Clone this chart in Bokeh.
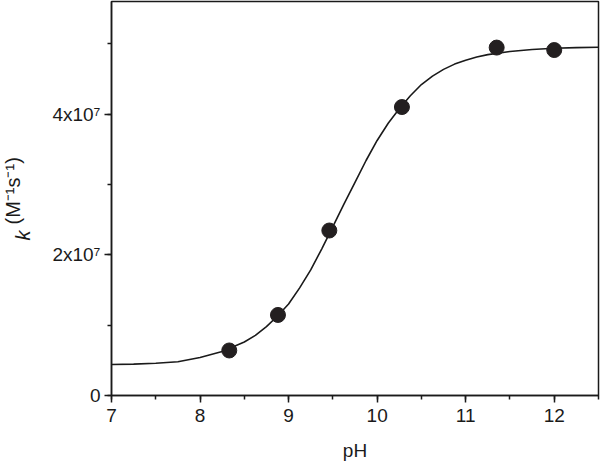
import math
from bokeh.plotting import figure
from bokeh.models import SingleIntervalTicker, Label, Range1d
from bokeh.embed import file_html
from bokeh.resources import INLINE

# measured data points
ph_points = [8.33, 8.88, 9.46, 10.28, 11.35, 12.0]
k_points = [6.4e6, 1.145e7, 2.345e7, 4.10e7, 4.945e7, 4.91e7]

# fitted curve
ph_curve = [7.00, 7.25, 7.50, 7.75, 8.00, 8.25, 8.50, 8.625, 8.75, 8.875,
            9.00, 9.125, 9.25, 9.375, 9.50, 9.625, 9.75, 9.875, 10.00,
            10.125, 10.25, 10.375, 10.50, 10.625, 10.75, 10.875, 11.00,
            11.125, 11.25, 11.50, 11.75, 12.00, 12.25, 12.50]
k_curve = [0.440e7, 0.446e7, 0.458e7, 0.480e7, 0.540e7, 0.625e7, 0.760e7,
           0.855e7, 0.980e7, 1.130e7, 1.300e7, 1.530e7, 1.785e7, 2.085e7,
           2.400e7, 2.720e7, 3.030e7, 3.340e7, 3.625e7, 3.870e7, 4.075e7,
           4.260e7, 4.420e7, 4.540e7, 4.635e7, 4.710e7, 4.765e7, 4.810e7,
           4.845e7, 4.890e7, 4.918e7, 4.935e7, 4.945e7, 4.950e7]

y_tick_labels = {0: "0", 20000000: "2x10\u2077", 40000000: "4x10\u2077"}

FONT = "Liberation Sans"

p = figure(width=600, height=463, output_backend="svg", toolbar_location=None,
           x_range=Range1d(7, 12.5), y_range=Range1d(0, 5.6e7),
           min_border_left=111, min_border_right=2, min_border_top=1,
           min_border_bottom=67)
p.grid.visible = False
p.background_fill_color = "white"
p.border_fill_color = "white"
p.outline_line_color = "#1a1a1a"
p.outline_line_width = 1.5

p.line(ph_curve, k_curve, line_color="#1a1a1a", line_width=1.6)
p.scatter(ph_points, k_points, size=15, fill_color="#231f20", line_color="#231f20")

p.xaxis.ticker = SingleIntervalTicker(interval=1, num_minor_ticks=2)
p.yaxis.ticker = SingleIntervalTicker(interval=2e7, num_minor_ticks=2)
p.yaxis.major_label_overrides = y_tick_labels

for ax in (p.xaxis[0], p.yaxis[0]):
    ax.axis_line_color = "#1a1a1a"
    ax.axis_line_width = 1.5
    ax.major_tick_line_color = "#1a1a1a"
    ax.minor_tick_line_color = "#1a1a1a"
    ax.major_tick_line_width = 1.5
    ax.minor_tick_line_width = 1.5
    ax.major_tick_out = 7
    ax.major_tick_in = 0
    ax.minor_tick_out = 4
    ax.minor_tick_in = 0
    ax.major_label_text_font = FONT
    ax.major_label_text_font_size = "19px"
    ax.major_label_text_color = "#1a1a1a"

p.xaxis.major_label_standoff = 6
p.yaxis.major_label_standoff = 4
p.xaxis.axis_label = "pH"
p.xaxis.axis_label_text_font = FONT
p.xaxis.axis_label_text_font_size = "19px"
p.xaxis.axis_label_text_font_style = "normal"
p.xaxis.axis_label_text_color = "#1a1a1a"
p.xaxis.axis_label_standoff = 15

lab_k = Label(x=-5, y=155, x_units="screen", y_units="screen", text="k",
              angle=math.pi / 2, text_align="left", text_baseline="middle",
              text_font=FONT, text_font_size="20px", text_font_style="italic",
              text_color="#1a1a1a")
lab_u = Label(x=7, y=171, x_units="screen", y_units="screen",
              text="(M\u207b\u00b9s\u207b\u00b9)",
              angle=math.pi / 2, text_align="left", text_baseline="middle",
              text_font=FONT, text_font_size="20px",
              text_color="#1a1a1a")
p.add_layout(lab_k, "left")
p.add_layout(lab_u, "left")

open("out.html", "w").write(file_html(p, INLINE))
